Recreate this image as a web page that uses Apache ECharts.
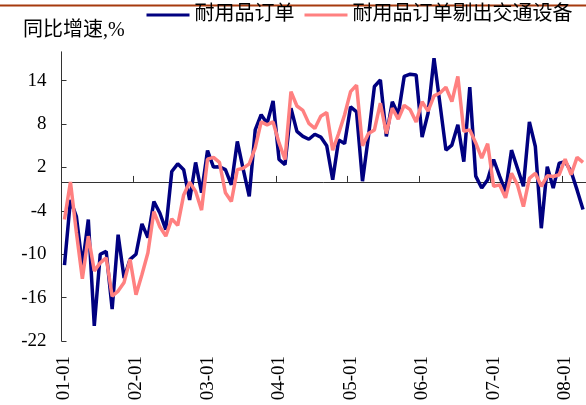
<!DOCTYPE html>
<html>
<head>
<meta charset="utf-8">
<script src="https://cdn.jsdelivr.net/npm/echarts@6/dist/echarts.min.js"></script>
<style>
  html, body { margin: 0; padding: 0; background: #fff; }
  #chart { width: 586px; height: 405px; }
</style>
</head>
<body>
<div id="chart"></div>
<script>
// Monthly categories, Jan 2001 to Apr 2008, labelled "YY-MM"
const yearCodes = ['01', '02', '03', '04', '05', '06', '07', '08'];
const monthCount = 88;
const categories = [];
for (let i = 0; i < monthCount; i++) {
  categories.push(yearCodes[Math.floor(i / 12)] + '-' + String(i % 12 + 1).padStart(2, '0'));
}

const seriesNames = ['耐用品订单', '耐用品订单剔出交通设备'];
const titleText = '同比增速,%';
const yTicks = [-22, -16, -10, -4, 2, 8, 14];

// Durable goods orders, YoY %
const durableOrders = [
  -11.5, -2.5, -4.8, -11.6, -5.2, -19.9, -10.0, -9.6, -17.6, -7.3, -13.3, -10.7,
  -10.0, -5.8, -7.7, -2.7, -4.3, -6.6, 1.45, 2.5, 1.7, -2.5, 2.7, -1.5,
  4.35, 2.05, 2.1, 1.7, -0.4, 5.6, 1.7, -2.0, 7.2, 9.3, 8.1, 11.2,
  3.1, 2.4, 10.2, 7.0, 6.3, 5.9, 6.6, 6.2, 5.0, 0.3, 5.8, 5.3,
  10.4, 9.7, 0.1, 6.3, 13.2, 14.1, 6.3, 11.1, 9.3, 14.6, 14.9, 14.8,
  6.2, 9.5, 17.1, 10.8, 4.4, 5.1, 7.9, 2.8, 13.1, 0.8, -0.85, 0.3,
  3.1, 0.8, -1.3, 4.4, 1.9, -0.6, 8.3, 4.9, -6.4, 2.1, -0.85, 2.6,
  2.8, 1.45, -1.1, -3.8
];

// Durable goods orders excluding transportation, YoY %
const durableExTransport = [
  -5.2, 0.0, -7.0, -13.4, -7.5, -12.3, -11.2, -10.5, -15.8, -15.1, -13.9, -10.7,
  -15.6, -12.8, -9.8, -4.1, -6.2, -7.5, -5.1, -6.0, -1.8, -0.05, -1.3, -3.9,
  3.15, 3.4, 2.7, -1.5, -2.7, 1.7, 1.9, 2.5, 4.7, 8.3, 7.9, 8.3,
  5.4, 3.1, 12.5, 10.5, 9.9, 8.1, 7.4, 9.1, 9.6, 4.4, 6.7, 9.3,
  12.5, 13.4, 5.0, 6.7, 7.2, 10.9, 6.7, 10.2, 8.7, 10.6, 10.0, 8.3,
  11.1, 9.8, 11.9, 12.3, 13.1, 11.1, 14.6, 7.0, 7.2, 5.4, 3.3, 5.3,
  -0.6, -0.4, -2.2, 1.2, -0.4, -3.4, 0.5, 1.2, -0.6, 0.85, 0.75, 1.0,
  3.15, 1.0, 3.4, 2.7
];

const serif = "'Liberation Serif', 'Times New Roman', serif";
const mixed = "'Liberation Serif', 'Noto Sans CJK SC', sans-serif";

const chart = echarts.init(document.getElementById('chart'), null, { renderer: 'canvas' });

chart.setOption({
  animation: false,
  backgroundColor: '#ffffff',
  grid: { left: 61.5, top: 51.8, width: 528, height: 289.2 },
  legend: {
    left: 146.5,
    top: 5,
    padding: 0,
    itemWidth: 43,
    itemHeight: 3,
    itemGap: 10,
    icon: 'rect',
    data: seriesNames,
    textStyle: { fontFamily: mixed, fontSize: 20, color: '#000' }
  },
  graphic: [
    {
      type: 'line',
      shape: { x1: 0, y1: 5.5, x2: 586, y2: 5.5 },
      style: { stroke: '#A63A0E', lineWidth: 2 }
    },
    {
      type: 'text',
      x: 23,
      y: 31,
      style: { text: titleText, font: '20px ' + mixed, fill: '#000', verticalAlign: 'middle' }
    }
  ],
  xAxis: [
    {
      // bottom axis carrying the rotated year labels
      type: 'category',
      data: categories,
      position: 'bottom',
      boundaryGap: true,
      axisLine: { show: false, onZero: false },
      axisTick: { show: false },
      splitLine: { show: false },
      axisLabel: {
        interval: 11,
        rotate: 90,
        margin: 15,
        fontFamily: serif,
        fontSize: 19,
        color: '#000'
      }
    },
    {
      // zero line with yearly ticks
      type: 'category',
      data: categories,
      position: 'bottom',
      boundaryGap: true,
      axisLine: { show: true, onZero: true, lineStyle: { color: '#333', width: 1 } },
      axisTick: { show: true, inside: true, interval: 11, length: 6, lineStyle: { color: '#333' } },
      axisLabel: { show: false },
      splitLine: { show: false }
    }
  ],
  yAxis: {
    type: 'value',
    min: -22,
    max: 18,
    interval: 6,
    axisLine: { show: true, onZero: false, lineStyle: { color: '#333', width: 1 } },
    axisTick: { show: true, inside: true, length: 5, customValues: yTicks, lineStyle: { color: '#333' } },
    axisLabel: {
      customValues: yTicks,
      margin: 15,
      fontFamily: serif,
      fontSize: 19,
      color: '#000'
    },
    splitLine: { show: false }
  },
  series: [
    {
      name: seriesNames[0],
      type: 'line',
      xAxisIndex: 0,
      data: durableOrders,
      symbol: 'none',
      color: '#000080',
      lineStyle: { width: 3.5, color: '#000080' }
    },
    {
      name: seriesNames[1],
      type: 'line',
      xAxisIndex: 0,
      data: durableExTransport,
      symbol: 'none',
      color: '#FF8080',
      lineStyle: { width: 3.5, color: '#FF8080' }
    }
  ]
});
</script>
</body>
</html>
